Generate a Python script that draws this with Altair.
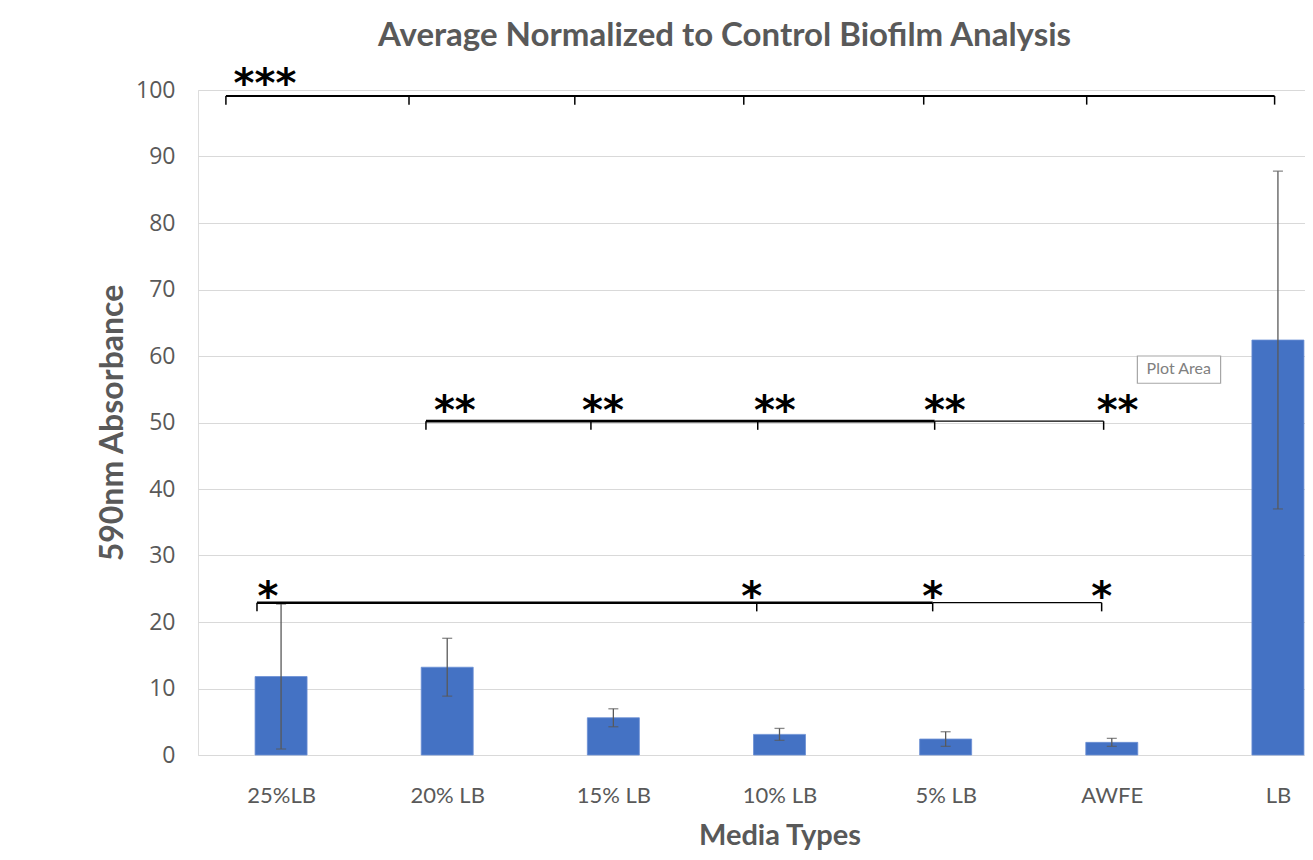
import altair as alt
import pandas as pd

# ---- bar data -------------------------------------------------------------
categories = ["25%LB", "20% LB", "15% LB", "10% LB", "5% LB", "AWFE", "LB"]
means = [11.8, 13.2, 5.6, 3.1, 2.4, 1.9, 62.4]
errors = [10.9, 4.35, 1.35, 0.9, 1.1, 0.6, 25.4]

# ---- significance brackets (x in category-index units, y in data units) ----
seg_x1 = [-0.332, 0.872, 3.934, -0.145, 3.922]
seg_x2 = [5.980, 3.934, 4.951, 3.922, 4.939]
seg_y = [99.1, 50.2, 50.2, 22.9, 22.9]
seg_w = [2.0, 2.6, 1.3, 2.6, 1.3]

tick_x = [-0.332, 0.770, 1.768, 2.785, 3.868, 4.849, 5.980,
          0.872, 1.865, 2.869, 3.934, 4.951,
          -0.145, 2.863, 3.922, 4.939]
tick_y = [99.1] * 7 + [50.2] * 5 + [22.9] * 4
tick_len = 1.3

star_x = [-0.097, 1.046, 1.937, 2.972, 3.995, 5.035, -0.079, 2.833, 3.922, 4.939]
star_y = [102.3, 53.1, 53.1, 53.1, 53.1, 53.1, 25.1, 25.1, 25.1, 25.1]
star_text = ["***", "**", "**", "**", "**", "**", "*", "*", "*", "*"]

# tooltip box seen in the screenshot
tip_text = ["Plot Area"]
tip_x = [5.403]
tip_y = [58.0]
tip_x1 = [5.154]
tip_x2 = [5.655]
tip_y1 = [55.9]
tip_y2 = [60.0]

GREY = "#595959"
PLOT_RANGE = [0, 1163]
YTITLE = "590nm Absorbance"

bars_df = pd.DataFrame({"idx": list(range(len(categories))), "media": categories,
                        "mean": means, "err": errors})
bars_df["lo"] = bars_df["mean"] - bars_df["err"]
bars_df["hi"] = bars_df["mean"] + bars_df["err"]

seg_df = pd.DataFrame({"x1": seg_x1, "x2": seg_x2, "y": seg_y, "w": seg_w})
tick_df = pd.DataFrame({"x": tick_x, "y": tick_y})
tick_df["y2"] = tick_df["y"] - tick_len
star_df = pd.DataFrame({"x": star_x, "y": star_y, "t": star_text})
tip_df = pd.DataFrame({"x": tip_x, "y": tip_y, "t": tip_text,
                       "x1": tip_x1, "x2": tip_x2, "y1": tip_y1, "y2": tip_y2})

yscale = alt.Scale(domain=[0, 100], nice=False, padding=0)
xscale = alt.Scale(domain=[-0.5, len(categories) - 0.5], range=PLOT_RANGE,
                   nice=False, zero=False, padding=0)

label_expr = "[" + ",".join("'%s'" % c for c in categories) + "][datum.value]"

x_axis = alt.Axis(
    title="Media Types", values=list(range(len(categories))), labelExpr=label_expr,
    grid=False, ticks=False, domain=False,
    labelFont="Lato", labelFontSize=22, labelColor=GREY, labelPadding=30,
    titleFont="Lato", titleFontSize=29, titleFontWeight="bold",
    titleColor=GREY, titlePadding=15,
)
y_axis = alt.Axis(
    values=list(range(0, 101, 10)), ticks=False, domain=False,
    gridColor="#d9d9d9", gridWidth=1.2,
    labelFont="Open Sans", labelFontSize=23, labelColor=GREY, labelPadding=23,
    titleFont="Lato", titleFontSize=32, titleFontWeight="bold",
    titleColor=GREY, titlePadding=6,
)

base = alt.Chart(bars_df)
bars = base.mark_bar(color="#4472C4", size=52, stroke="#6b8fd4", strokeWidth=0.8).encode(
    x=alt.X("idx:Q", scale=xscale, axis=x_axis),
    y=alt.Y("mean:Q", scale=yscale, axis=y_axis, title=YTITLE),
)
rules = base.mark_rule(color=GREY, strokeWidth=1.3).encode(
    x=alt.X("idx:Q", scale=xscale),
    y=alt.Y("lo:Q", scale=yscale, title=YTITLE),
    y2="hi:Q",
)
cap_lo = base.mark_tick(color=GREY, thickness=1.3, size=10, orient="horizontal").encode(
    x=alt.X("idx:Q", scale=xscale),
    y=alt.Y("lo:Q", scale=yscale, title=YTITLE),
)
cap_hi = base.mark_tick(color=GREY, thickness=1.3, size=10, orient="horizontal").encode(
    x=alt.X("idx:Q", scale=xscale),
    y=alt.Y("hi:Q", scale=yscale, title=YTITLE),
)

segs = alt.Chart(seg_df).mark_rule(color="black").encode(
    x=alt.X("x1:Q", scale=xscale),
    x2="x2:Q",
    y=alt.Y("y:Q", scale=yscale, title=YTITLE),
    strokeWidth=alt.StrokeWidth("w:Q", scale=None),
)
ticks = alt.Chart(tick_df).mark_rule(color="black", strokeWidth=1.5).encode(
    x=alt.X("x:Q", scale=xscale),
    y=alt.Y("y:Q", scale=yscale, title=YTITLE),
    y2="y2:Q",
)
stars = alt.Chart(star_df).mark_text(
    font="DejaVu Sans", fontSize=40, fontWeight="bold", color="black",
    baseline="middle", dy=10
).encode(
    x=alt.X("x:Q", scale=xscale),
    y=alt.Y("y:Q", scale=yscale, title=YTITLE),
    text="t:N",
)
tip_box = alt.Chart(tip_df).mark_rect(
    fill="white", stroke="#a6a6a6", strokeWidth=1.2
).encode(
    x=alt.X("x1:Q", scale=xscale),
    x2="x2:Q",
    y=alt.Y("y1:Q", scale=yscale, title=YTITLE),
    y2="y2:Q",
)
tip_txt = alt.Chart(tip_df).mark_text(
    font="Lato", fontSize=16, color="#808080", baseline="middle"
).encode(
    x=alt.X("x:Q", scale=xscale),
    y=alt.Y("y:Q", scale=yscale, title=YTITLE),
    text="t:N",
)

chart = alt.layer(bars, rules, cap_lo, cap_hi, segs, ticks, stars, tip_box, tip_txt).properties(
    width=1107,
    height=665,
    title=alt.TitleParams(
        "Average Normalized to Control Biofilm Analysis",
        font="Lato", fontSize=33, fontWeight="bold",
        color=GREY, anchor="middle", dx=-27, offset=-14, frame="group",
        baseline="alphabetic",
    ),
    autosize=alt.AutoSizeParams(type="none"),
    padding={"left": 190, "top": 82, "right": 0, "bottom": 97},
).configure_view(stroke=None).configure(background="white")

chart.save("out.html", embed_options={"renderer": "svg", "actions": False})
